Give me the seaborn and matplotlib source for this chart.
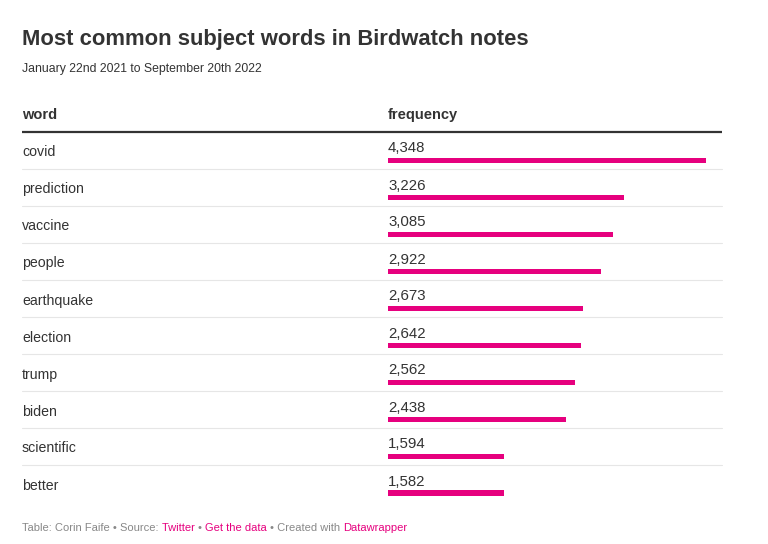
import matplotlib
matplotlib.use("Agg")
import matplotlib.pyplot as plt
import seaborn as sns
import pandas as pd
import numpy as np

words = ["covid", "prediction", "vaccine", "people", "earthquake",
         "election", "trump", "biden", "scientific", "better"]
frequency = [4348, 3226, 3085, 2922, 2673, 2642, 2562, 2438, 1594, 1582]

title = "Most common subject words in Birdwatch notes"
subtitle = "January 22nd 2021 to September 20th 2022"
col_headers = ["word", "frequency"]

df = pd.DataFrame({"word": words, "frequency": frequency})

sns.set_theme(style="white")
plt.rcParams["font.family"] = ["Liberation Sans", "DejaVu Sans"]

W, H = 768, 544
fig = plt.figure(figsize=(W / 100, H / 100), dpi=100)
fig.patch.set_facecolor("white")

bg = fig.add_axes([0, 0, 1, 1])
bg.set_xlim(0, W)
bg.set_ylim(H, 0)
bg.axis("off")

dark = "#333333"
pink = "#e6007e"
grey = "#888888"
left, right, col2 = 22, 722, 388
top_rows, row_h = 132, 37
n = len(words)

bg.text(left, 39, title, fontsize=15.8, fontweight="bold", color=dark, va="center")
bg.text(left, 69, subtitle, fontsize=8.8, color=dark, va="center")
bg.text(left, 115, col_headers[0], fontsize=10.5, fontweight="bold", color=dark, va="center")
bg.text(col2, 115, col_headers[1], fontsize=10.5, fontweight="bold", color=dark, va="center")
bg.plot([left, right], [131.5, 131.5], color=dark, lw=1.6, solid_capstyle="butt")

for i, w in enumerate(words):
    yc = top_rows + row_h * (i + 0.5) + 2
    bg.text(left, yc, w, fontsize=10.2, color=dark, va="center")
    if i < n - 1:
        ys = top_rows + row_h * (i + 1)
        bg.plot([left, right], [ys, ys], color="#e6e6e6", lw=0.8)

# footer (no leading spaces; trailing spaces measured with a sentinel)
fy = 528
parts = [("Table: Corin Faife • Source: ", grey), ("Twitter ", pink),
         ("• ", grey), ("Get the data ", pink),
         ("• Created with ", grey), ("Datawrapper", pink)]
fig.canvas.draw()
renderer = fig.canvas.get_renderer()
scale = W / fig.bbox.width


def text_width(s):
    t1 = bg.text(0, 0, s + "|", fontsize=8)
    t2 = bg.text(0, 0, "|", fontsize=8)
    w = t1.get_window_extent(renderer=renderer).width - t2.get_window_extent(renderer=renderer).width
    t1.remove()
    t2.remove()
    return w * scale


x = left
for txt, col in parts:
    bg.text(x, fy, txt, fontsize=8, color=col, va="center")
    x += text_width(txt)

# bar axes: rows shifted down so bars sit in lower part of each row
offset = 9.5
ax_top = top_rows + offset
ax_h = row_h * n
ax_w = right - col2
ax = fig.add_axes([col2 / W, 1 - (ax_top + ax_h) / H, ax_w / W, ax_h / H])
sns.barplot(data=df, x="frequency", y="word", orient="h", color=pink,
            width=5 / row_h, saturation=1, ax=ax, edgecolor="none")
ax.set_xlim(0, 4348 * ax_w / (705.5 - col2))
ax.set_ylim(n - 0.5, -0.5)
ax.axis("off")
ax.patch.set_alpha(0)
for i, v in enumerate(frequency):
    ax.text(0, i - 11.5 / row_h, f"{v:,}", fontsize=10.8, color=dark, va="center", ha="left")

fig.savefig("out.png", dpi=100, facecolor="white")
